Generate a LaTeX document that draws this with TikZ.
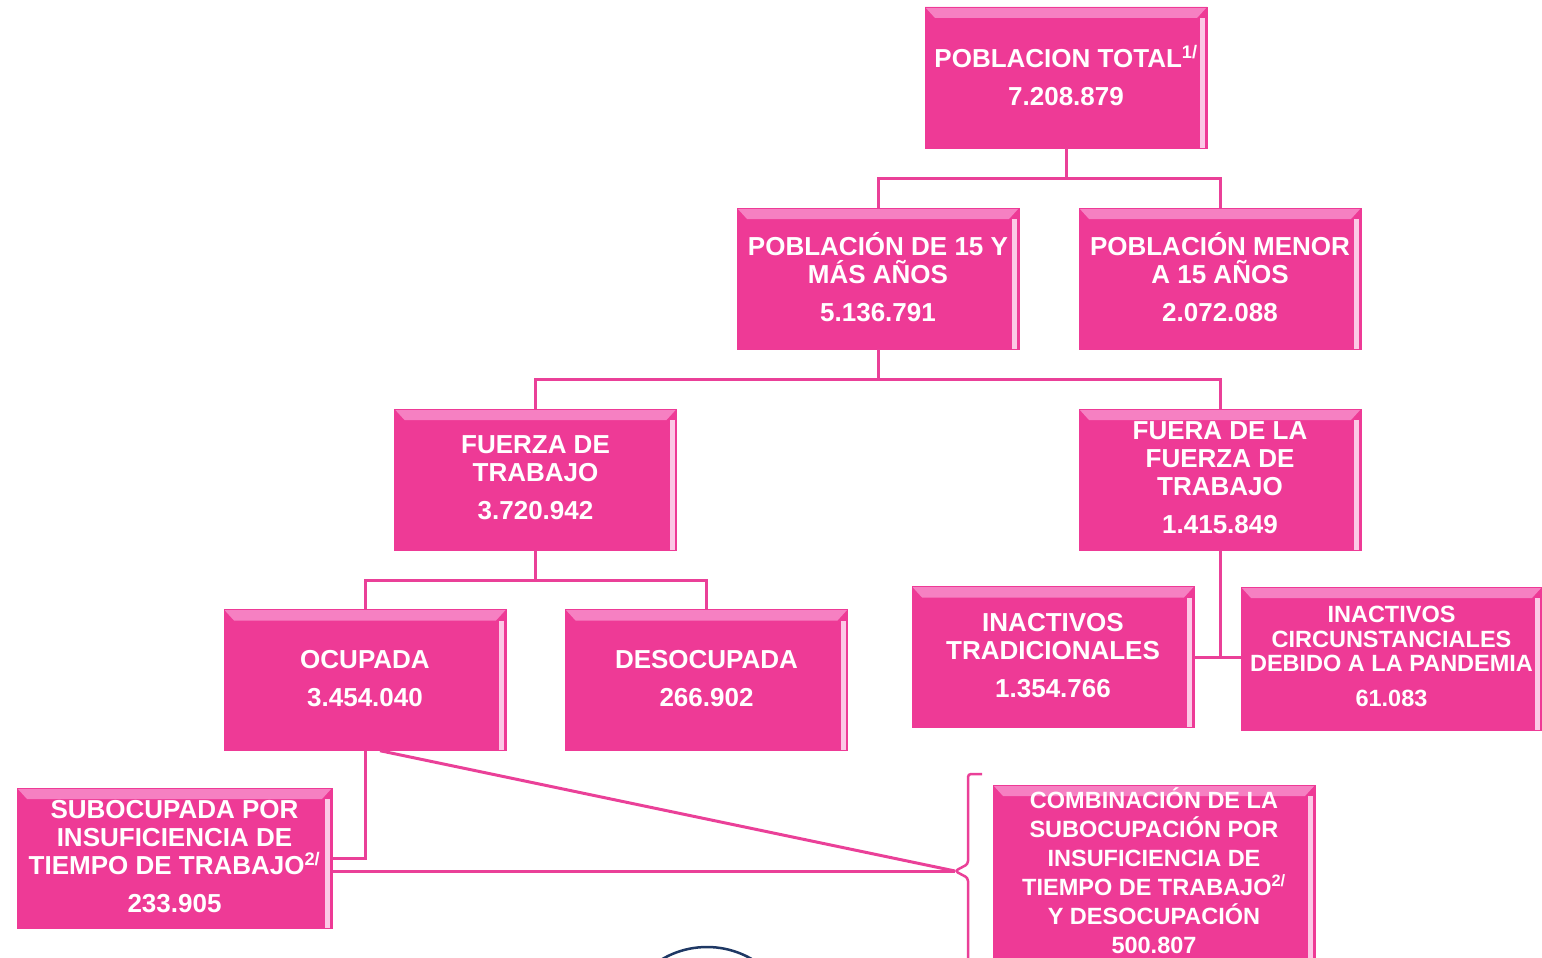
\documentclass[tikz,border=0pt]{standalone}
\usepackage{fontspec}
\setmainfont{Liberation Sans}
\usetikzlibrary{positioning}
\definecolor{rosa}{RGB}{238,58,150}
\definecolor{rosaclaro}{RGB}{246,128,194}
\definecolor{rosabrillo}{RGB}{252,200,230}
\definecolor{linea}{RGB}{234,64,152}
\definecolor{marino}{RGB}{31,56,100}
\tikzset{
  caja/.style={fill=rosa, draw=rosa, text=white, align=center, inner sep=2pt,
    minimum width=282pt, minimum height=141pt, text depth=4pt,
    font=\bfseries\fontsize{26}{28}\selectfont,
    path picture={
      \fill[rosaclaro] (path picture bounding box.north west) -- (path picture bounding box.north east)
        -- ([shift={(-10pt,-11pt)}]path picture bounding box.north east)
        -- ([shift={(10pt,-11pt)}]path picture bounding box.north west) -- cycle;
      \fill[rosabrillo] ([shift={(-7pt,-11pt)}]path picture bounding box.north east)
        rectangle ([xshift=-2pt]path picture bounding box.south east);
    }},
  enlace/.style={draw=linea, line width=3pt}
}
\begin{document}
\begin{tikzpicture}[x=1pt, y=-1pt]
\useasboundingbox (0,0) rectangle (1542,958);
\node[caja] (total) at (1066, 77.5) {POBLACION TOTAL\textsuperscript{1/}\\[10pt]7.208.879};
\node[caja] (p15) at (878, 278.5) {POBLACIÓN DE 15 Y\\MÁS AÑOS\\[10pt]5.136.791};
\node[caja] (menor) at (1220, 278.5) {POBLACIÓN MENOR\\A 15 AÑOS\\[10pt]2.072.088};
\node[caja] (fuerza) at (535.5, 479.5) {FUERZA DE\\TRABAJO\\[10pt]3.720.942};
\node[caja] (fuera) at (1220, 479.5) {FUERA DE LA\\FUERZA DE\\TRABAJO\\[10pt]1.415.849};
\node[caja] (ocupada) at (365, 680) {OCUPADA\\[10pt]3.454.040};
\node[caja] (desocupada) at (706.5, 680) {DESOCUPADA\\[10pt]266.902};
\node[caja] (trad) at (1053, 657) {INACTIVOS\\TRADICIONALES\\[10pt]1.354.766};
\node[caja, minimum width=301pt, minimum height=143pt, font=\bfseries\fontsize{23.5}{24.5}\selectfont] (circ) at (1391.5, 658.5) {INACTIVOS\\CIRCUNSTANCIALES\\DEBIDO A LA PANDEMIA\\[10pt]61.083};
\node[caja, minimum width=315pt, minimum height=140pt] (subocupada) at (174.5, 858) {SUBOCUPADA POR\\INSUFICIENCIA DE\\TIEMPO DE TRABAJO\textsuperscript{2/}\\[10pt]233.905};
\node[caja, minimum width=322pt, minimum height=176pt, font=\bfseries\fontsize{23.5}{29}\selectfont] (combinacion) at (1154, 873) {COMBINACIÓN DE LA\\SUBOCUPACIÓN POR\\INSUFICIENCIA DE\\TIEMPO DE TRABAJO\textsuperscript{2/}\\Y DESOCUPACIÓN\\500.807};
% conectores
\draw[enlace] (total.south) -- ++(0,30) coordinate (t1);
\draw[enlace] (p15.north) |- (t1) -| (menor.north);
\draw[enlace] (p15.south) -- ++(0,30) coordinate (t2);
\draw[enlace] (fuerza.north) |- (t2) -| (fuera.north);
\draw[enlace] (fuerza.south) -- ++(0,30) coordinate (t3);
\draw[enlace] (ocupada.north) |- (t3) -| (desocupada.north);
\draw[enlace] (fuera.south) |- (trad.east);
\draw[enlace] (trad.east) -- (trad.east -| circ.west);
\draw[enlace] (ocupada.south) |- (subocupada.east);
% llave
\coordinate (punta) at (955, 871);
\draw[enlace] (subocupada.east |- punta) -- (punta);
\draw[enlace] ([xshift=15pt]ocupada.south) -- (punta);
\draw[enlace, line width=2.5pt, rounded corners=3pt] (982,774) -| (968,864) -- (punta) -- (968,878) -- (968,965);
\draw[marino, line width=2.5pt] (707,1036) circle[radius=89pt];
\end{tikzpicture}
\end{document}
